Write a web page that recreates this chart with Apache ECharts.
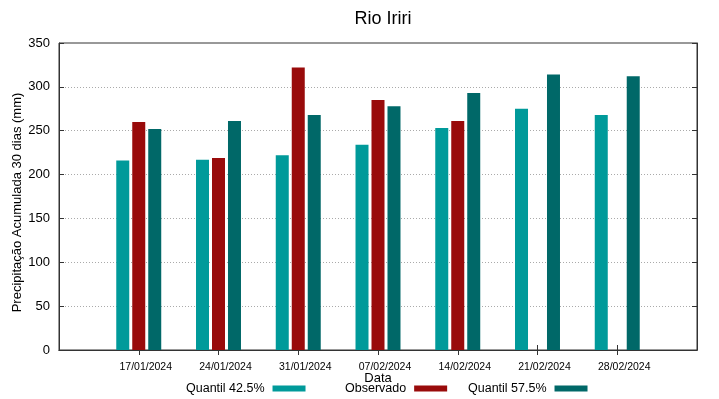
<!DOCTYPE html>
<html>
<head>
<meta charset="utf-8">
<script src="https://cdn.jsdelivr.net/npm/echarts@6/dist/echarts.min.js"></script>
<style>
  html, body { margin: 0; padding: 0; background: #fff; }
  #chart { width: 719px; height: 399px; }
</style>
</head>
<body>
<div id="chart"></div>
<script>
// datas (semanais)
var datas = ['17/01/2024', '24/01/2024', '31/01/2024', '07/02/2024', '14/02/2024', '21/02/2024', '28/02/2024'];
var quantil425 = [216, 217, 222, 234, 253, 275, 268];
var observado = [260, 219, 322, 285, 261, null, null];
var quantil575 = [252, 261, 268, 278, 293, 314, 312];
var yTicks = [0, 50, 100, 150, 200, 250, 300, 350];

// uma categoria vazia em cada ponta, como no gnuplot
function pad(arr) {
    var out = ['-'];
    arr.forEach(function (v) { out.push(v == null ? '-' : v); });
    out.push('-');
    return out;
}

var cats = [''].concat(datas).concat(['']);
var fonte = 'Liberation Sans, Arial, sans-serif';

// ticks so nas datas, nao nos cantos
function tickNasDatas(i) {
    return i > 0 && i < cats.length - 1;
}

var dom = document.getElementById('chart');
var myChart = echarts.init(dom);

var option = {
    animation: false,
    backgroundColor: '#fff',
    textStyle: { fontFamily: fonte },
    title: {
        text: 'Rio Iriri',
        left: 378,
        textAlign: 'center',
        top: 5,
        textStyle: { fontSize: 18, fontWeight: 'normal', color: '#000', fontFamily: fonte }
    },
    grid: {
        left: 59, right: 22, top: 43, bottom: 49,
        containLabel: false, outerBoundsMode: 'none',
        show: true, borderColor: '#333', borderWidth: 1, backgroundColor: 'transparent'
    },
    legend: [
        { data: ['Quantil 42.5%'], left: 181, top: 377 },
        { data: ['Observado'], left: 340, top: 377 },
        { data: ['Quantil 57.5%'], left: 463, top: 377 }
    ].map(function (l) {
        l.align = 'right';
        l.icon = 'rect';
        l.itemWidth = 33;
        l.itemHeight = 6;
        l.textStyle = { fontSize: 12.5, color: '#000', fontFamily: fonte, padding: [0, 3, 0, 0] };
        return l;
    }),
    xAxis: [{
        type: 'category',
        boundaryGap: false,
        data: cats,
        name: 'Data',
        nameLocation: 'middle',
        nameGap: 22,
        nameMoveOverlap: false,
        nameTextStyle: { fontSize: 13, color: '#000', fontFamily: fonte },
        axisLine: { lineStyle: { color: '#333', width: 1 } },
        axisTick: { inside: true, length: 5, interval: tickNasDatas, lineStyle: { color: '#333' } },
        axisLabel: { fontSize: 10.5, color: '#000', margin: 12, padding: [0, 0, 0, 14], interval: 0 },
        splitLine: { show: false }
    }, {
        type: 'category',
        boundaryGap: false,
        data: cats,
        position: 'top',
        axisLine: { show: true, lineStyle: { color: '#333', width: 1 } },
        axisTick: { show: true, inside: true, length: 5, interval: tickNasDatas, lineStyle: { color: '#333' } },
        axisLabel: { show: false },
        splitLine: { show: false }
    }],
    yAxis: [{
        type: 'value',
        min: yTicks[0],
        max: yTicks[yTicks.length - 1],
        interval: 50,
        name: 'Precipitação Acumulada 30 dias (mm)',
        nameLocation: 'middle',
        nameGap: 35,
        nameMoveOverlap: false,
        nameTextStyle: { fontSize: 13, color: '#000', fontFamily: fonte, padding: [0, 12, 0, 0] },
        axisLine: { show: true, lineStyle: { color: '#333', width: 1 } },
        axisTick: { show: true, inside: true, length: 5, lineStyle: { color: '#333' } },
        axisLabel: { fontSize: 13, color: '#000', margin: 9 },
        splitLine: {
            show: true, showMinLine: false, showMaxLine: false,
            lineStyle: { color: '#aaa', type: [1, 2], width: 1 }
        }
    }, {
        type: 'value',
        min: yTicks[0],
        max: yTicks[yTicks.length - 1],
        interval: 50,
        position: 'right',
        axisLine: { show: true, lineStyle: { color: '#333', width: 1 } },
        axisTick: { show: true, inside: true, length: 5, lineStyle: { color: '#333' } },
        axisLabel: { show: false },
        splitLine: { show: false }
    }],
    series: [{
        name: 'Quantil 42.5%',
        type: 'bar',
        data: pad(quantil425),
        barWidth: 13,
        barGap: '23%',
        itemStyle: { color: '#009a9a' }
    }, {
        name: 'Observado',
        type: 'bar',
        data: pad(observado),
        barWidth: 13,
        barGap: '23%',
        itemStyle: { color: '#990b0b' }
    }, {
        name: 'Quantil 57.5%',
        type: 'bar',
        data: pad(quantil575),
        barWidth: 13,
        barGap: '23%',
        itemStyle: { color: '#006868' }
    }, {
        // serie vazia so para o eixo espelhado (topo/direita) ser desenhado
        name: 'espelho',
        type: 'line',
        xAxisIndex: 1,
        yAxisIndex: 1,
        data: [],
        silent: true
    }]
};

myChart.setOption(option, true);
window.onresize = function () {
    myChart.resize();
};
</script>
</body>
</html>
